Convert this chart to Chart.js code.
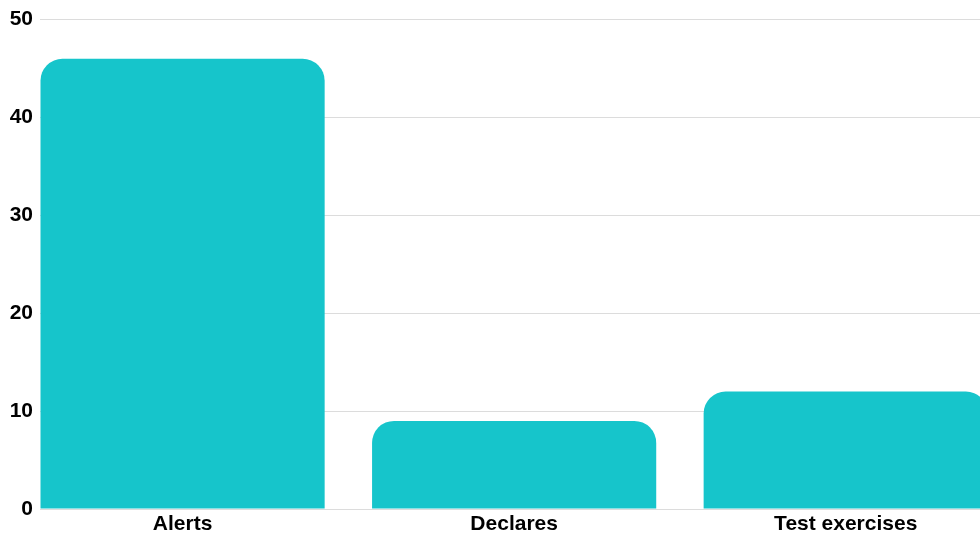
<!DOCTYPE html>
<html>
<head>
<meta charset="utf-8">
<script src="https://cdn.jsdelivr.net/npm/chart.js@4"></script>
<style>
  html, body { margin: 0; padding: 0; background: #fff; overflow: hidden; }
  #wrap { width: 980px; height: 533px; position: relative; }
</style>
</head>
<body>
<div id="wrap"><canvas id="plot"></canvas></div>
<script>
const categories = ["Alerts", "Declares", "Test exercises"];
const counts = [46, 9, 12];
const yTicks = [0, 10, 20, 30, 40, 50];

const barColor = "#16c5cb";
const font = { family: "'Liberation Sans', Arial, sans-serif", size: 21, weight: "bold" };

const ctx = document.getElementById("plot").getContext("2d");
new Chart(ctx, {
  type: "bar",
  data: {
    datasets: [
      {
        label: "Count",
        data: counts.map((v, i) => ({ x: i, y: v })),
        backgroundColor: barColor,
        borderRadius: 22,
        borderSkipped: "bottom",
        barPercentage: 0.857,
        categoryPercentage: 1,
      },
    ],
  },
  options: {
    responsive: true,
    maintainAspectRatio: false,
    animation: false,
    layout: { padding: { top: 17, right: 0, left: 0, bottom: 0 } },
    plugins: { legend: { display: false }, tooltip: { enabled: false } },
    scales: {
      x: {
        type: "linear",
        min: -0.43,
        max: 2.405,
        offset: false,
        grid: { display: false, drawTicks: false },
        border: { display: false },
        afterBuildTicks: (scale) => {
          scale.ticks = categories.map((c, i) => ({ value: i }));
        },
        afterFit: (scale) => {
          scale.height = 24;
        },
        ticks: {
          color: "#000",
          font: font,
          padding: 3,
          maxRotation: 0,
          autoSkip: false,
          callback: (v) => categories[v],
        },
      },
      y: {
        min: 0,
        max: 50,
        afterBuildTicks: (scale) => {
          scale.ticks = yTicks.map((v) => ({ value: v }));
        },
        afterFit: (scale) => {
          scale.width = 40;
        },
        grid: { color: "#dcdcdc", lineWidth: 1, drawTicks: false },
        border: { display: false },
        ticks: {
          color: "#000",
          font: font,
          padding: 7,
        },
      },
    },
  },
});
</script>
</body>
</html>
